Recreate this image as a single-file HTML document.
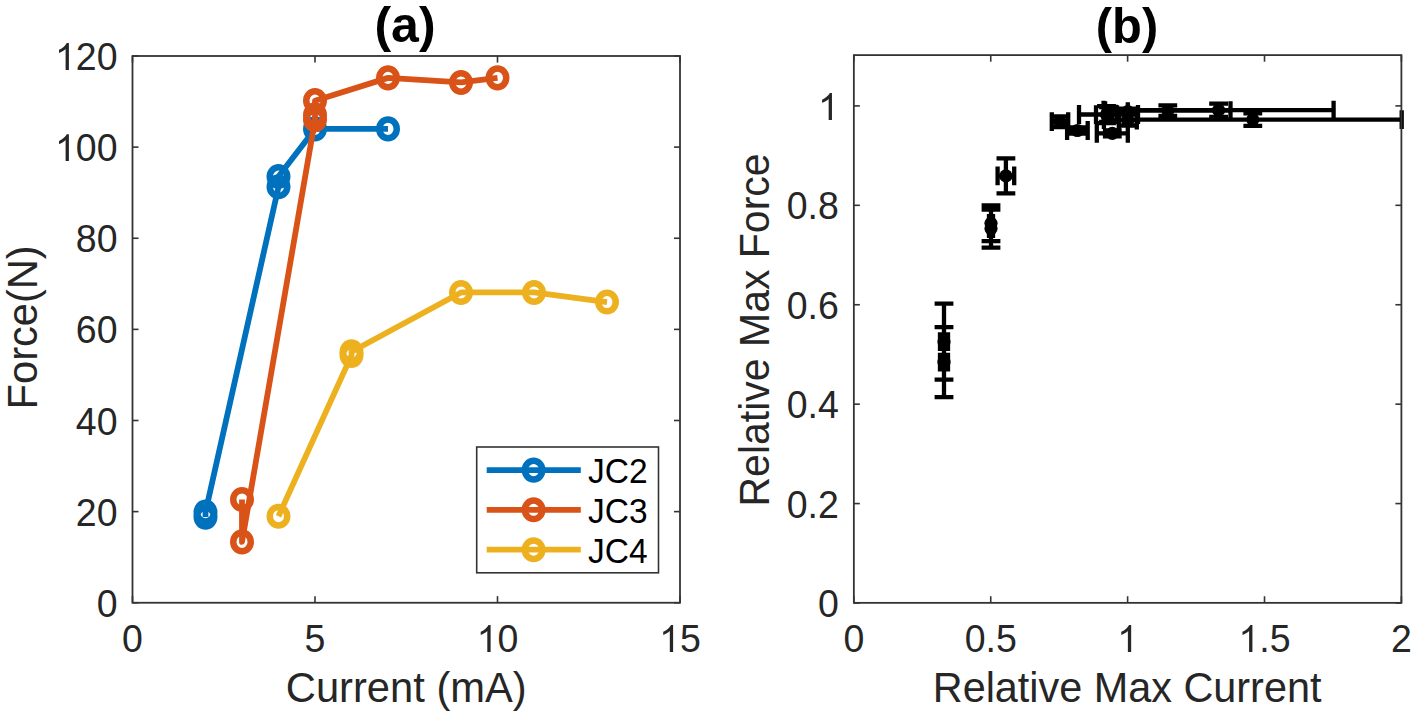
<!DOCTYPE html><html><head><meta charset="utf-8"><style>html,body{margin:0;padding:0;background:#fff;}svg{display:block;}text{font-family:"Liberation Sans",sans-serif;}</style></head><body>
<div id="w">
<svg width="1416" height="718" viewBox="0 0 1416 718">
<rect width="1416" height="718" fill="#fff"/>
<path d="M205.50,517.09 L205.50,512.08 L278.50,186.76 L278.50,176.51 L315.00,128.90 L388.00,128.90" fill="none" stroke="#0072BD" stroke-width="5.8" stroke-linejoin="round" stroke-linecap="butt"/>
<ellipse cx="205.50" cy="517.09" rx="8.75" ry="9.3" fill="none" stroke="#0072BD" stroke-width="6.5"/>
<ellipse cx="205.50" cy="512.08" rx="8.75" ry="9.3" fill="none" stroke="#0072BD" stroke-width="6.5"/>
<ellipse cx="278.50" cy="186.76" rx="8.75" ry="9.3" fill="none" stroke="#0072BD" stroke-width="6.5"/>
<ellipse cx="278.50" cy="176.51" rx="8.75" ry="9.3" fill="none" stroke="#0072BD" stroke-width="6.5"/>
<ellipse cx="315.00" cy="128.90" rx="8.75" ry="9.3" fill="none" stroke="#0072BD" stroke-width="6.5"/>
<ellipse cx="388.00" cy="128.90" rx="8.75" ry="9.3" fill="none" stroke="#0072BD" stroke-width="6.5"/>
<path d="M242.00,499.46 L242.00,541.88 L315.00,119.79 L315.00,114.78 L315.00,100.65 L388.00,77.87 L461.00,82.43 L497.50,77.87" fill="none" stroke="#D95319" stroke-width="5.8" stroke-linejoin="round" stroke-linecap="butt"/>
<ellipse cx="242.00" cy="499.46" rx="8.75" ry="9.3" fill="none" stroke="#D95319" stroke-width="6.5"/>
<ellipse cx="242.00" cy="541.88" rx="8.75" ry="9.3" fill="none" stroke="#D95319" stroke-width="6.5"/>
<ellipse cx="315.00" cy="119.79" rx="8.75" ry="9.3" fill="none" stroke="#D95319" stroke-width="6.5"/>
<ellipse cx="315.00" cy="114.78" rx="8.75" ry="9.3" fill="none" stroke="#D95319" stroke-width="6.5"/>
<ellipse cx="315.00" cy="100.65" rx="8.75" ry="9.3" fill="none" stroke="#D95319" stroke-width="6.5"/>
<ellipse cx="388.00" cy="77.87" rx="8.75" ry="9.3" fill="none" stroke="#D95319" stroke-width="6.5"/>
<ellipse cx="461.00" cy="82.43" rx="8.75" ry="9.3" fill="none" stroke="#D95319" stroke-width="6.5"/>
<ellipse cx="497.50" cy="77.87" rx="8.75" ry="9.3" fill="none" stroke="#D95319" stroke-width="6.5"/>
<path d="M278.50,516.18 L351.50,355.35 L351.50,351.70 L461.00,292.47 L534.00,292.47 L607.00,302.04" fill="none" stroke="#EDB120" stroke-width="5.8" stroke-linejoin="round" stroke-linecap="butt"/>
<ellipse cx="278.50" cy="516.18" rx="8.75" ry="9.3" fill="none" stroke="#EDB120" stroke-width="6.5"/>
<ellipse cx="351.50" cy="355.35" rx="8.75" ry="9.3" fill="none" stroke="#EDB120" stroke-width="6.5"/>
<ellipse cx="351.50" cy="351.70" rx="8.75" ry="9.3" fill="none" stroke="#EDB120" stroke-width="6.5"/>
<ellipse cx="461.00" cy="292.47" rx="8.75" ry="9.3" fill="none" stroke="#EDB120" stroke-width="6.5"/>
<ellipse cx="534.00" cy="292.47" rx="8.75" ry="9.3" fill="none" stroke="#EDB120" stroke-width="6.5"/>
<ellipse cx="607.00" cy="302.04" rx="8.75" ry="9.3" fill="none" stroke="#EDB120" stroke-width="6.5"/>
<g stroke="#333333" stroke-width="1.8" fill="none" stroke-linecap="square">
<line x1="132.50" y1="602.75" x2="132.50" y2="596.15" stroke-width="1.6" stroke-linecap="butt"/>
<line x1="132.50" y1="56.00" x2="132.50" y2="62.60" stroke-width="1.6" stroke-linecap="butt"/>
<line x1="315.00" y1="602.75" x2="315.00" y2="596.15" stroke-width="1.6" stroke-linecap="butt"/>
<line x1="315.00" y1="56.00" x2="315.00" y2="62.60" stroke-width="1.6" stroke-linecap="butt"/>
<line x1="497.50" y1="602.75" x2="497.50" y2="596.15" stroke-width="1.6" stroke-linecap="butt"/>
<line x1="497.50" y1="56.00" x2="497.50" y2="62.60" stroke-width="1.6" stroke-linecap="butt"/>
<line x1="680.00" y1="602.75" x2="680.00" y2="596.15" stroke-width="1.6" stroke-linecap="butt"/>
<line x1="680.00" y1="56.00" x2="680.00" y2="62.60" stroke-width="1.6" stroke-linecap="butt"/>
<line x1="132.50" y1="602.75" x2="138.50" y2="602.75" stroke-width="1.6" stroke-linecap="butt"/>
<line x1="680.00" y1="602.75" x2="674.00" y2="602.75" stroke-width="1.6" stroke-linecap="butt"/>
<line x1="132.50" y1="511.62" x2="138.50" y2="511.62" stroke-width="1.6" stroke-linecap="butt"/>
<line x1="680.00" y1="511.62" x2="674.00" y2="511.62" stroke-width="1.6" stroke-linecap="butt"/>
<line x1="132.50" y1="420.50" x2="138.50" y2="420.50" stroke-width="1.6" stroke-linecap="butt"/>
<line x1="680.00" y1="420.50" x2="674.00" y2="420.50" stroke-width="1.6" stroke-linecap="butt"/>
<line x1="132.50" y1="329.38" x2="138.50" y2="329.38" stroke-width="1.6" stroke-linecap="butt"/>
<line x1="680.00" y1="329.38" x2="674.00" y2="329.38" stroke-width="1.6" stroke-linecap="butt"/>
<line x1="132.50" y1="238.25" x2="138.50" y2="238.25" stroke-width="1.6" stroke-linecap="butt"/>
<line x1="680.00" y1="238.25" x2="674.00" y2="238.25" stroke-width="1.6" stroke-linecap="butt"/>
<line x1="132.50" y1="147.12" x2="138.50" y2="147.12" stroke-width="1.6" stroke-linecap="butt"/>
<line x1="680.00" y1="147.12" x2="674.00" y2="147.12" stroke-width="1.6" stroke-linecap="butt"/>
<line x1="132.50" y1="56.00" x2="138.50" y2="56.00" stroke-width="1.6" stroke-linecap="butt"/>
<line x1="680.00" y1="56.00" x2="674.00" y2="56.00" stroke-width="1.6" stroke-linecap="butt"/>
<rect x="132.50" y="56.00" width="547.50" height="546.75" fill="none"/>
</g>
<rect x="476.7" y="447.0" width="181.8" height="125.8" fill="#fff" stroke="#333" stroke-width="1.6"/>
<line x1="486.7" y1="470.1" x2="580.8" y2="470.1" stroke="#0072BD" stroke-width="5.8"/>
<ellipse cx="533.6" cy="470.1" rx="8.75" ry="9.3" fill="none" stroke="#0072BD" stroke-width="6.5"/>
<text transform="translate(588,483.0) scale(1,1.04)" font-size="33.5" fill="#000">JC2</text>
<line x1="486.7" y1="509.8" x2="580.8" y2="509.8" stroke="#D95319" stroke-width="5.8"/>
<ellipse cx="533.6" cy="509.8" rx="8.75" ry="9.3" fill="none" stroke="#D95319" stroke-width="6.5"/>
<text transform="translate(588,522.7) scale(1,1.04)" font-size="33.5" fill="#000">JC3</text>
<line x1="486.7" y1="549.7" x2="580.8" y2="549.7" stroke="#EDB120" stroke-width="5.8"/>
<ellipse cx="533.6" cy="549.7" rx="8.75" ry="9.3" fill="none" stroke="#EDB120" stroke-width="6.5"/>
<text transform="translate(588,562.6) scale(1,1.04)" font-size="33.5" fill="#000">JC4</text>
<g fill="#262626" font-size="37.5">
<text transform="translate(122.07,652.00) scale(1,1.04)">0</text>
<text transform="translate(304.57,652.00) scale(1,1.04)">5</text>
<path d="M763,0L583,0L583,1147Q518,1085 412.5,1023Q307,961 223,930L223,1104Q374,1175 487.5,1276Q601,1377 648,1472L763,1472Z" transform="translate(476.64,652.00) scale(0.01831,-0.01831)"/>
<text transform="translate(497.50,652.00) scale(1,1.04)">0</text>
<path d="M763,0L583,0L583,1147Q518,1085 412.5,1023Q307,961 223,930L223,1104Q374,1175 487.5,1276Q601,1377 648,1472L763,1472Z" transform="translate(659.14,652.00) scale(0.01831,-0.01831)"/>
<text transform="translate(680.00,652.00) scale(1,1.04)">5</text>
<text transform="translate(96.64,616.75) scale(1,1.04)">0</text>
<text transform="translate(75.79,525.62) scale(1,1.04)">2</text>
<text transform="translate(96.64,525.62) scale(1,1.04)">0</text>
<text transform="translate(75.79,434.50) scale(1,1.04)">4</text>
<text transform="translate(96.64,434.50) scale(1,1.04)">0</text>
<text transform="translate(75.79,343.38) scale(1,1.04)">6</text>
<text transform="translate(96.64,343.38) scale(1,1.04)">0</text>
<text transform="translate(75.79,252.25) scale(1,1.04)">8</text>
<text transform="translate(96.64,252.25) scale(1,1.04)">0</text>
<path d="M763,0L583,0L583,1147Q518,1085 412.5,1023Q307,961 223,930L223,1104Q374,1175 487.5,1276Q601,1377 648,1472L763,1472Z" transform="translate(54.93,161.12) scale(0.01831,-0.01831)"/>
<text transform="translate(75.79,161.12) scale(1,1.04)">0</text>
<text transform="translate(96.64,161.12) scale(1,1.04)">0</text>
<path d="M763,0L583,0L583,1147Q518,1085 412.5,1023Q307,961 223,930L223,1104Q374,1175 487.5,1276Q601,1377 648,1472L763,1472Z" transform="translate(54.93,70.00) scale(0.01831,-0.01831)"/>
<text transform="translate(75.79,70.00) scale(1,1.04)">2</text>
<text transform="translate(96.64,70.00) scale(1,1.04)">0</text>
</g>
<text transform="translate(406.25,701.9) scale(1,1.04)" text-anchor="middle" font-size="41.7" fill="#262626">Current (mA)</text>
<text transform="translate(36.75,327.35) rotate(-90) scale(1,1.035)" text-anchor="middle" font-size="41.6" fill="#262626">Force(N)</text>
<text transform="translate(405.0,42.1) scale(1,1.016)" text-anchor="middle" font-size="50" font-weight="bold" fill="#000">(a)</text>
<path d="M944.00,303.70V379.70M934.60,303.70H953.40M934.60,379.70H953.40M940.00,341.70H948.00M940.00,332.30V351.10M948.00,332.30V351.10M944.00,327.20V397.20M934.60,327.20H953.40M934.60,397.20H953.40M940.00,362.20H948.00M940.00,352.80V371.60M948.00,352.80V371.60M991.00,205.50V241.10M981.60,205.50H1000.40M981.60,241.10H1000.40M989.00,223.30H993.00M989.00,213.90V232.70M993.00,213.90V232.70M991.00,209.60V247.60M981.60,209.60H1000.40M981.60,247.60H1000.40M989.00,228.60H993.00M989.00,219.20V238.00M993.00,219.20V238.00M1005.90,158.40V193.40M996.50,158.40H1015.30M996.50,193.40H1015.30M997.60,175.90H1014.20M997.60,166.50V185.30M1014.20,166.50V185.30M1060.00,116.40V127.00M1050.60,116.40H1069.40M1050.60,127.00H1069.40M1051.80,121.70H1068.20M1051.80,112.30V131.10M1068.20,112.30V131.10M1077.40,127.50V133.50M1068.00,127.50H1086.80M1068.00,133.50H1086.80M1067.10,130.50H1087.70M1067.10,121.10V139.90M1087.70,121.10V139.90M1112.30,130.30V136.30M1102.90,130.30H1121.70M1102.90,136.30H1121.70M1096.80,133.30H1127.80M1096.80,123.90V142.70M1127.80,123.90V142.70M1108.50,107.00V122.00M1099.10,107.00H1117.90M1099.10,122.00H1117.90M1079.00,114.50H1138.00M1079.00,105.10V123.90M1138.00,105.10V123.90M1106.50,106.10V123.10M1097.10,106.10H1115.90M1097.10,123.10H1115.90M1096.00,114.60H1117.00M1096.00,105.20V124.00M1117.00,105.20V124.00M1127.80,108.60V114.60M1118.40,108.60H1137.20M1118.40,114.60H1137.20M1127.80,111.60H1127.80M1127.80,102.20V121.00M1127.80,102.20V121.00M1127.80,114.50V125.50M1118.40,114.50H1137.20M1118.40,125.50H1137.20M1118.80,120.00H1136.80M1118.80,110.60V129.40M1136.80,110.60V129.40M1167.80,105.40V115.80M1158.40,105.40H1177.20M1158.40,115.80H1177.20M1105.10,110.60H1230.50M1105.10,101.20V120.00M1230.50,101.20V120.00M1218.60,103.60V116.80M1209.20,103.60H1228.00M1209.20,116.80H1228.00M1103.60,110.20H1333.60M1103.60,100.80V119.60M1333.60,100.80V119.60M1252.80,113.40V125.80M1243.40,113.40H1262.20M1243.40,125.80H1262.20M1103.90,119.60H1401.70M1103.90,110.20V129.00M1401.70,110.20V129.00" fill="none" stroke="#000" stroke-width="4.3" stroke-linecap="butt"/>
<circle cx="944.00" cy="341.70" r="6.6" fill="#000"/>
<circle cx="944.00" cy="362.20" r="6.6" fill="#000"/>
<circle cx="991.00" cy="223.30" r="6.6" fill="#000"/>
<circle cx="991.00" cy="228.60" r="6.6" fill="#000"/>
<circle cx="1005.90" cy="175.90" r="6.6" fill="#000"/>
<circle cx="1060.00" cy="121.70" r="6.6" fill="#000"/>
<circle cx="1077.40" cy="130.50" r="6.6" fill="#000"/>
<circle cx="1112.30" cy="133.30" r="6.6" fill="#000"/>
<circle cx="1108.50" cy="114.50" r="6.6" fill="#000"/>
<circle cx="1106.50" cy="114.60" r="6.6" fill="#000"/>
<circle cx="1127.80" cy="111.60" r="6.6" fill="#000"/>
<circle cx="1127.80" cy="120.00" r="6.6" fill="#000"/>
<circle cx="1167.80" cy="110.60" r="6.6" fill="#000"/>
<circle cx="1218.60" cy="110.20" r="6.6" fill="#000"/>
<circle cx="1252.80" cy="119.60" r="6.6" fill="#000"/>
<g stroke="#333333" stroke-width="1.8" fill="none" stroke-linecap="square">
<line x1="853.85" y1="602.85" x2="853.85" y2="596.25" stroke-width="1.6" stroke-linecap="butt"/>
<line x1="853.85" y1="55.10" x2="853.85" y2="61.70" stroke-width="1.6" stroke-linecap="butt"/>
<line x1="990.74" y1="602.85" x2="990.74" y2="596.25" stroke-width="1.6" stroke-linecap="butt"/>
<line x1="990.74" y1="55.10" x2="990.74" y2="61.70" stroke-width="1.6" stroke-linecap="butt"/>
<line x1="1127.62" y1="602.85" x2="1127.62" y2="596.25" stroke-width="1.6" stroke-linecap="butt"/>
<line x1="1127.62" y1="55.10" x2="1127.62" y2="61.70" stroke-width="1.6" stroke-linecap="butt"/>
<line x1="1264.51" y1="602.85" x2="1264.51" y2="596.25" stroke-width="1.6" stroke-linecap="butt"/>
<line x1="1264.51" y1="55.10" x2="1264.51" y2="61.70" stroke-width="1.6" stroke-linecap="butt"/>
<line x1="1401.40" y1="602.85" x2="1401.40" y2="596.25" stroke-width="1.6" stroke-linecap="butt"/>
<line x1="1401.40" y1="55.10" x2="1401.40" y2="61.70" stroke-width="1.6" stroke-linecap="butt"/>
<line x1="853.85" y1="603.00" x2="859.85" y2="603.00" stroke-width="1.6" stroke-linecap="butt"/>
<line x1="1401.40" y1="603.00" x2="1395.40" y2="603.00" stroke-width="1.6" stroke-linecap="butt"/>
<line x1="853.85" y1="503.58" x2="859.85" y2="503.58" stroke-width="1.6" stroke-linecap="butt"/>
<line x1="1401.40" y1="503.58" x2="1395.40" y2="503.58" stroke-width="1.6" stroke-linecap="butt"/>
<line x1="853.85" y1="404.16" x2="859.85" y2="404.16" stroke-width="1.6" stroke-linecap="butt"/>
<line x1="1401.40" y1="404.16" x2="1395.40" y2="404.16" stroke-width="1.6" stroke-linecap="butt"/>
<line x1="853.85" y1="304.74" x2="859.85" y2="304.74" stroke-width="1.6" stroke-linecap="butt"/>
<line x1="1401.40" y1="304.74" x2="1395.40" y2="304.74" stroke-width="1.6" stroke-linecap="butt"/>
<line x1="853.85" y1="205.32" x2="859.85" y2="205.32" stroke-width="1.6" stroke-linecap="butt"/>
<line x1="1401.40" y1="205.32" x2="1395.40" y2="205.32" stroke-width="1.6" stroke-linecap="butt"/>
<line x1="853.85" y1="105.90" x2="859.85" y2="105.90" stroke-width="1.6" stroke-linecap="butt"/>
<line x1="1401.40" y1="105.90" x2="1395.40" y2="105.90" stroke-width="1.6" stroke-linecap="butt"/>
<rect x="853.85" y="55.10" width="547.55" height="547.75" fill="none"/>
</g>
<g fill="#262626" font-size="37.5">
<text transform="translate(843.42,652.00) scale(1,1.04)">0</text>
<text transform="translate(964.67,652.00) scale(1,1.04)">0</text>
<text transform="translate(985.53,652.00) scale(1,1.04)">.</text>
<text transform="translate(995.95,652.00) scale(1,1.04)">5</text>
<path d="M763,0L583,0L583,1147Q518,1085 412.5,1023Q307,961 223,930L223,1104Q374,1175 487.5,1276Q601,1377 648,1472L763,1472Z" transform="translate(1117.20,652.00) scale(0.01831,-0.01831)"/>
<path d="M763,0L583,0L583,1147Q518,1085 412.5,1023Q307,961 223,930L223,1104Q374,1175 487.5,1276Q601,1377 648,1472L763,1472Z" transform="translate(1238.45,652.00) scale(0.01831,-0.01831)"/>
<text transform="translate(1259.30,652.00) scale(1,1.04)">.</text>
<text transform="translate(1269.72,652.00) scale(1,1.04)">5</text>
<text transform="translate(1390.97,652.00) scale(1,1.04)">2</text>
<text transform="translate(817.99,617.00) scale(1,1.04)">0</text>
<text transform="translate(786.72,517.58) scale(1,1.04)">0</text>
<text transform="translate(807.58,517.58) scale(1,1.04)">.</text>
<text transform="translate(817.99,517.58) scale(1,1.04)">2</text>
<text transform="translate(786.72,418.16) scale(1,1.04)">0</text>
<text transform="translate(807.58,418.16) scale(1,1.04)">.</text>
<text transform="translate(817.99,418.16) scale(1,1.04)">4</text>
<text transform="translate(786.72,318.74) scale(1,1.04)">0</text>
<text transform="translate(807.58,318.74) scale(1,1.04)">.</text>
<text transform="translate(817.99,318.74) scale(1,1.04)">6</text>
<text transform="translate(786.72,219.32) scale(1,1.04)">0</text>
<text transform="translate(807.58,219.32) scale(1,1.04)">.</text>
<text transform="translate(817.99,219.32) scale(1,1.04)">8</text>
<path d="M763,0L583,0L583,1147Q518,1085 412.5,1023Q307,961 223,930L223,1104Q374,1175 487.5,1276Q601,1377 648,1472L763,1472Z" transform="translate(817.99,119.90) scale(0.01831,-0.01831)"/>
</g>
<text transform="translate(1127.1,701.9) scale(1,1.04)" text-anchor="middle" font-size="41.4" fill="#262626">Relative Max Current</text>
<text transform="translate(769.0,329.95) rotate(-90) scale(1,1.045)" text-anchor="middle" font-size="41.0" fill="#262626">Relative Max Force</text>
<text transform="translate(1127.0,43.0) scale(1,1.03)" text-anchor="middle" font-size="48.8" font-weight="bold" fill="#000">(b)</text>
</svg></div></body></html>
